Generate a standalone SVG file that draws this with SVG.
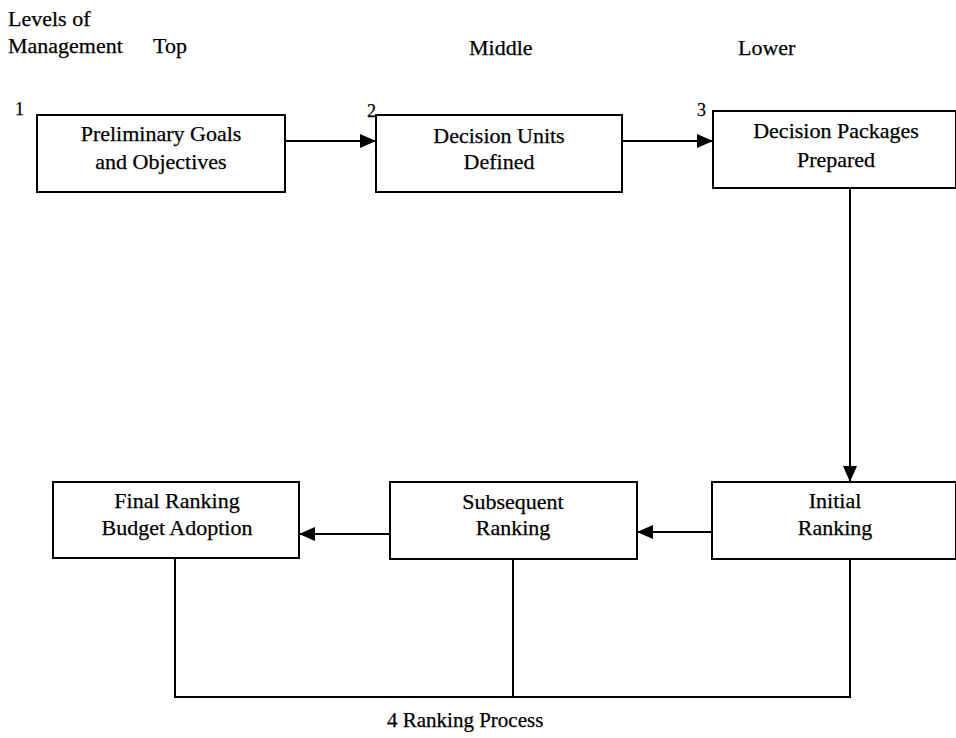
<svg xmlns="http://www.w3.org/2000/svg" width="956" height="738" viewBox="0 0 956 738" font-family="'Liberation Serif', 'Times New Roman', serif">
<style>
text{font-family:"Liberation Serif","Times New Roman",serif;fill:#000;stroke:#000;stroke-width:0.25px;}
.hd{font-size:22px;}
.ft{font-size:21px;}
.lb{font-size:22px;text-anchor:middle;}
.num{font-size:18px;}
.box{fill:#fff;stroke:#000;stroke-width:2;}
.ln{fill:none;stroke:#000;stroke-width:2;}
</style>
<defs>
<marker id="ah" markerWidth="16" markerHeight="14" refX="16" refY="7" orient="auto" markerUnits="userSpaceOnUse">
<path d="M0,0 L16,7 L0,14 Z" fill="#000"/>
</marker>
</defs>
<rect width="956" height="738" fill="#fff"/>
<g id="header">
<text class="hd" x="8" y="26">Levels of</text>
<text class="hd" x="8" y="53">Management</text>
<text class="hd" x="153" y="53">Top</text>
<text class="hd" x="469" y="55">Middle</text>
<text class="hd" x="738" y="55">Lower</text>
</g>
<g id="connectors">
<line class="ln" x1="285" y1="141" x2="376" y2="141" marker-end="url(#ah)"/>
<line class="ln" x1="622" y1="141" x2="713" y2="141" marker-end="url(#ah)"/>
<line class="ln" x1="850" y1="188" x2="850" y2="482" marker-end="url(#ah)"/>
<line class="ln" x1="712" y1="532" x2="637" y2="532" marker-end="url(#ah)"/>
<line class="ln" x1="390" y1="534" x2="299" y2="534" marker-end="url(#ah)"/>
<polyline class="ln" points="175,558 175,697 850,697 850,559"/>
<line class="ln" x1="513" y1="559" x2="513" y2="697"/>
</g>
<g id="n1">
<text class="num" x="15" y="115">1</text>
<rect class="box" x="37" y="115" width="248" height="77"/>
<text class="lb" x="161" y="141">Preliminary Goals</text>
<text class="lb" x="161" y="169">and Objectives</text>
</g>
<g id="n2">
<text class="num" x="367" y="117">2</text>
<rect class="box" x="376" y="115" width="246" height="77"/>
<text class="lb" x="499" y="143">Decision Units</text>
<text class="lb" x="499" y="169">Defined</text>
</g>
<g id="n3">
<text class="num" x="697" y="116">3</text>
<rect class="box" x="713" y="111" width="243" height="77"/>
<text class="lb" x="836" y="138">Decision Packages</text>
<text class="lb" x="836" y="167">Prepared</text>
</g>
<g id="n4">
<rect class="box" x="53" y="482" width="246" height="76"/>
<text class="lb" x="177" y="508">Final Ranking</text>
<text class="lb" x="177" y="535">Budget Adoption</text>
</g>
<g id="n5">
<rect class="box" x="390" y="482" width="247" height="77"/>
<text class="lb" x="513" y="509">Subsequent</text>
<text class="lb" x="513" y="535">Ranking</text>
</g>
<g id="n6">
<rect class="box" x="712" y="482" width="244" height="77"/>
<text class="lb" x="835" y="508">Initial</text>
<text class="lb" x="835" y="535">Ranking</text>
</g>
<g id="footer">
<text class="ft" x="387" y="727">4 Ranking Process</text>
</g>
</svg>
